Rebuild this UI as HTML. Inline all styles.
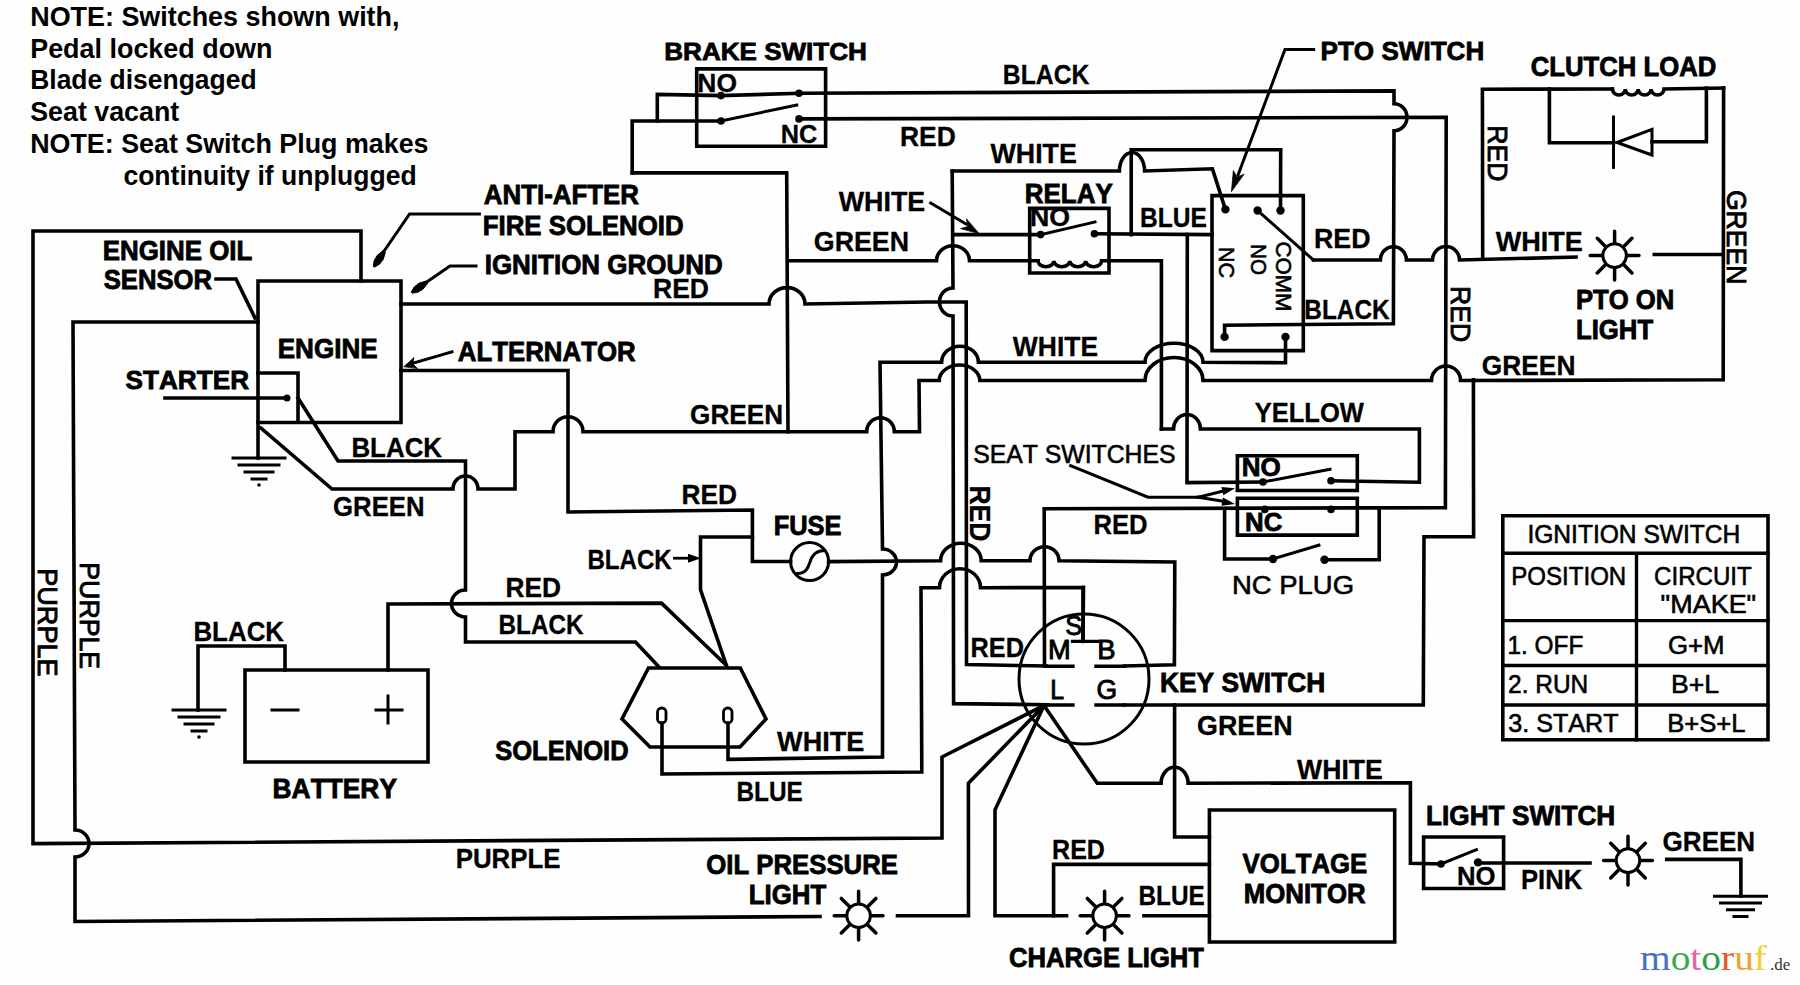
<!DOCTYPE html>
<html><head><meta charset="utf-8"><style>html,body{margin:0;padding:0;background:#fdfefd;overflow:hidden}svg{display:block}text{font-family:"Liberation Sans",sans-serif;font-kerning:none;font-feature-settings:"kern" 0,"liga" 0}</style></head>
<body><svg width="1800" height="985" viewBox="0 0 1800 985" stroke="#000" stroke-linecap="square" stroke-linejoin="miter" font-family="Liberation Sans, sans-serif">
<rect width="1800" height="985" fill="#fdfefd" stroke="none"/>
<text transform="translate(30.2 26.0) scale(0.9701 1)" font-size="27.76" font-weight="bold" stroke="none">NOTE: Switches shown with,</text>
<text transform="translate(30.2 57.7) scale(0.9702 1)" font-size="27.76" font-weight="bold" stroke="none">Pedal locked down</text>
<text transform="translate(30.2 89.4) scale(0.9535 1)" font-size="27.76" font-weight="bold" stroke="none">Blade disengaged</text>
<text transform="translate(30.2 121.2) scale(0.9662 1)" font-size="27.76" font-weight="bold" stroke="none">Seat vacant</text>
<text transform="translate(30.2 152.9) scale(0.9677 1)" font-size="27.76" font-weight="bold" stroke="none">NOTE: Seat Switch Plug makes</text>
<text transform="translate(123.4 184.6) scale(0.9561 1)" font-size="27.76" font-weight="bold" stroke="none">continuity if unplugged</text>
<path d="M361.0 281.0 L361.0 231.0 L33.0 231.0 L33.0 843.6 L942.0 838.0 L942.0 757.0 L1044.0 705.5" stroke-width="3.60" fill="none"/>
<path d="M258.0 322.0 L73.0 322.0 L75.0 830.0 L75.0 830.0 A14.0 13.5 0 0 1 75.0 857.0 L75.0 921.5 L820.0 916.5" stroke-width="3.60" fill="none"/>
<path d="M897.5 915.7L968.5 915.7L968.4 783.3L1044 705.5" stroke-width="3.60" fill="none"/>
<path d="M216.0 279.0 L236.0 279.0 L255.0 318.0" stroke-width="3.60" fill="none"/>
<path d="M258.0 281.0H401.0V422.5H258.0Z" stroke-width="3.60" fill="none"/>
<path d="M258.0 373.0 L298.0 373.0 L298.0 422.0" stroke-width="3.60" fill="none"/>
<path d="M165.0 398.0 L287.0 398.0" stroke-width="3.60" fill="none"/>
<circle cx="287.0" cy="398.0" r="3.5" fill="#000" stroke="none"/>
<path d="M298.0 398.0 L338.0 461.0 L465.5 461.0 L465.5 590.0 A14.0 13.5 0 0 0 465.5 617.0 L465.5 642.0 L635.5 642.0 L659.0 667.0" stroke-width="3.60" fill="none"/>
<path d="M261.0 428.0 L332.0 489.0 L453.0 489.0 A12.5 13.0 0 0 1 478.0 489.0 L515.0 489.0 L515.0 431.7 L553.0 431.7 A15.0 15.0 0 0 1 583.0 431.7 L866.7 431.7 A13.8 14.0 0 0 1 894.3 431.7 L919.5 431.8 L919.0 380.5 L939.2 380.5 A20.3 15.5 0 0 1 979.8 380.5 L1145.0 380.5 A29.0 23.0 0 0 1 1203.0 380.5 L1431.5 380.5 A14.5 14.5 0 0 1 1460.5 380.5 L1723.2 379.8 L1723.6 88.0" stroke-width="3.60" fill="none"/>
<path d="M258.0 422.0 L258.0 458.0" stroke-width="3.60" fill="none"/>
<path d="M233.0 458.0H285.0M239.0 465.0H279.0M245.0 472.0H273.0M252.0 479.0H266.0" stroke-width="3.00" fill="none"/>
<circle cx="259.0" cy="485.0" r="1.8" fill="#000" stroke="none"/>
<text transform="translate(102.7 260.2) scale(0.9637 1)" font-size="26.89" font-weight="bold" stroke="#000" stroke-width="0.80">ENGINE OIL</text>
<text transform="translate(103.7 289.2) scale(0.9552 1)" font-size="26.89" font-weight="bold" stroke="#000" stroke-width="0.80">SENSOR</text>
<text transform="translate(277.7 357.6) scale(0.9542 1)" font-size="27.33" font-weight="bold" stroke="#000" stroke-width="0.80">ENGINE</text>
<text transform="translate(125.6 389.2) scale(0.9832 1)" font-size="26.60" font-weight="bold" stroke="#000" stroke-width="0.80">STARTER</text>
<text transform="translate(351.4 456.5) scale(0.9382 1)" font-size="27.62" font-weight="bold" stroke="#000" stroke-width="0.30">BLACK</text>
<text transform="translate(333.1 515.5) scale(0.9316 1)" font-size="27.62" font-weight="bold" stroke="#000" stroke-width="0.30">GREEN</text>
<text transform="translate(38.0 568.2) rotate(90) scale(0.9766 1)" font-size="27.76" font-weight="normal" stroke="#000" stroke-width="0.90">PURPLE</text>
<text transform="translate(79.5 562.3) rotate(90) scale(0.9627 1)" font-size="27.76" font-weight="normal" stroke="#000" stroke-width="0.90">PURPLE</text>
<text transform="translate(455.7 868.0) scale(0.9073 1)" font-size="28.49" font-weight="bold" stroke="#000" stroke-width="0.30">PURPLE</text>
<path d="M479.4 214.0 L409.6 214.0 L382.0 254.0" stroke-width="3.00" fill="none"/>
<path d="M373.3 266.1L374.2 260.6L377.2 255.4L382.9 250.8L385.3 252.4L383.2 259.4L379.5 264.2L374.7 266.9Z" fill="#000" stroke="#000" stroke-width="1" stroke-linejoin="round"/>
<path d="M476.0 266.0 L450.0 266.0 L424.0 284.0" stroke-width="3.00" fill="none"/>
<path d="M411.5 291.7L414.3 286.9L419.0 283.2L426.0 281.0L427.6 283.3L423.1 289.1L417.9 292.2L412.5 293.1Z" fill="#000" stroke="#000" stroke-width="1" stroke-linejoin="round"/>
<path d="M452.0 351.8 L412.0 363.5" stroke-width="3.00" fill="none"/>
<path d="M404.1 366.4L414.0 357.6L412.7 363.8L417.2 368.2Z" fill="#000" stroke="#000" stroke-width="0.8" stroke-linejoin="round"/>
<text transform="translate(483.8 204.2) scale(0.9632 1)" font-size="26.89" font-weight="bold" stroke="#000" stroke-width="0.80">ANTI-AFTER</text>
<text transform="translate(482.7 235.2) scale(0.9611 1)" font-size="26.89" font-weight="bold" stroke="#000" stroke-width="0.80">FIRE SOLENOID</text>
<text transform="translate(484.7 273.8) scale(0.9657 1)" font-size="26.89" font-weight="bold" stroke="#000" stroke-width="0.80">IGNITION GROUND</text>
<text transform="translate(457.8 361.2) scale(0.9603 1)" font-size="26.89" font-weight="bold" stroke="#000" stroke-width="0.80">ALTERNATOR</text>
<path d="M401.0 304.0 L769.0 304.0 A18.0 16.4 0 0 1 805.0 304.0 L927.7 302.0 L966.2 302.0 L966.5 664.6 L1046.0 666.0" stroke-width="3.60" fill="none"/>
<text transform="translate(653.0 298.2) scale(0.9602 1)" font-size="27.62" font-weight="bold" stroke="#000" stroke-width="0.30">RED</text>
<path d="M401.0 370.5 L568.0 370.5 L568.0 512.0 L752.4 510.0 L752.4 561.4 L790.6 561.5" stroke-width="3.60" fill="none"/>
<path d="M828.6 561.6L940.6 560.7A20.3 17.5 0 0 1 981.2 560.7L1030 560.7A14.5 14 0 0 1 1059 560.7L1174.8 562L1174.4 664.7L1124.6 666" stroke-width="3.60" fill="none"/>
<circle cx="809.6" cy="561.6" r="19" stroke-width="3.0" fill="none"/>
<path d="M797.5 573.5C806 573.5 808 568 810 562C812 555 816 550.5 824.5 550.5" stroke-width="3.00" fill="none"/>
<text transform="translate(773.7 534.9) scale(0.9468 1)" font-size="26.89" font-weight="bold" stroke="#000" stroke-width="0.80">FUSE</text>
<text transform="translate(690.1 424.0) scale(0.9473 1)" font-size="27.62" font-weight="bold" stroke="#000" stroke-width="0.30">GREEN</text>
<text transform="translate(681.4 503.5) scale(0.9530 1)" font-size="27.62" font-weight="bold" stroke="#000" stroke-width="0.30">RED</text>
<path d="M726.4 665.3 L700.5 589.8 L700.5 537.0 L752.4 537.0" stroke-width="3.60" fill="none"/>
<path d="M674.5 558.2 L690.0 558.2" stroke-width="2.80" fill="none"/>
<path d="M701.0 558.2L688.0 562.7L688.0 553.7Z" fill="#000" stroke="none"/>
<text transform="translate(587.4 569.2) scale(0.8726 1)" font-size="27.62" font-weight="bold" stroke="#000" stroke-width="0.30">BLACK</text>
<path d="M388.0 670.0 L388.0 604.0 L661.5 603.1 L726.0 665.0" stroke-width="3.60" fill="none"/>
<text transform="translate(505.4 596.5) scale(0.9530 1)" font-size="27.62" font-weight="bold" stroke="#000" stroke-width="0.30">RED</text>
<text transform="translate(498.5 634.0) scale(0.8801 1)" font-size="27.62" font-weight="bold" stroke="#000" stroke-width="0.30">BLACK</text>
<path d="M285.0 670.0 L285.0 646.0 L198.0 646.0 L198.0 710.0" stroke-width="3.60" fill="none"/>
<path d="M173.0 710.0H225.0M179.0 717.0H219.0M185.0 724.0H213.0M192.0 731.0H206.0" stroke-width="3.00" fill="none"/>
<circle cx="199.0" cy="737.0" r="1.8" fill="#000" stroke="none"/>
<path d="M245.0 670.0H428.0V762.0H245.0Z" stroke-width="3.60" fill="none"/>
<path d="M272 710H298M376 710H402M388 696V723" stroke-width="3.00" fill="none"/>
<text transform="translate(193.4 641.0) scale(0.9382 1)" font-size="27.62" font-weight="bold" stroke="#000" stroke-width="0.30">BLACK</text>
<text transform="translate(272.6 798.2) scale(0.9796 1)" font-size="26.89" font-weight="bold" stroke="#000" stroke-width="0.80">BATTERY</text>
<path d="M648.5 668L740.3 668L766 719L740 747L650 747L622 719Z" stroke-width="3.60" fill="none"/>
<rect x="657.5" y="708" width="8.5" height="15" rx="4" stroke-width="2.8" fill="none"/>
<rect x="723.5" y="708" width="8.5" height="15" rx="4" stroke-width="2.8" fill="none"/>
<text transform="translate(495.2 759.7) scale(0.9250 1)" font-size="27.62" font-weight="bold" stroke="#000" stroke-width="0.80">SOLENOID</text>
<path d="M662.0 723.0 L662.0 774.0 L921.8 772.0 L921.0 587.7 L939.5 587.7 A20.5 19.0 0 0 1 980.5 587.7 L1083.5 587.5 L1083.0 641.0" stroke-width="3.60" fill="none"/>
<text transform="translate(736.5 800.5) scale(0.8817 1)" font-size="27.62" font-weight="bold" stroke="#000" stroke-width="0.30">BLUE</text>
<path d="M728.0 723.0 L728.0 759.4 L882.5 757.0 L882.5 575.0 A14.0 13.0 0 0 0 882.5 549.0 L880.0 362.2 L941.6 362.2 A18.4 16.0 0 0 1 978.4 362.2 L1145.0 362.2 A29.0 19.0 0 0 1 1203.0 362.2 L1285.5 362.7 L1285.5 337.0" stroke-width="3.60" fill="none"/>
<text transform="translate(777.1 750.5) scale(0.9810 1)" font-size="27.62" font-weight="bold" stroke="#000" stroke-width="0.30">WHITE</text>
<path d="M696.7 68.9H825.6V146.2H696.7Z" stroke-width="3.60" fill="none"/>
<path d="M657.3 121.0 L657.3 94.4 L721.0 95.6" stroke-width="3.60" fill="none"/>
<circle cx="721.0" cy="95.6" r="3.8" fill="#000" stroke="none"/>
<circle cx="799.0" cy="93.3" r="3.8" fill="#000" stroke="none"/>
<path d="M721.0 95.6 L799.0 93.3" stroke-width="3.60" fill="none"/>
<path d="M799.0 93.3 L1394.0 90.9 L1394.0 103.0 L1394.0 103.8 A13.0 13.5 0 0 1 1394.0 130.8 L1393.4 323.7 L1224.6 325.2 L1224.6 337.0" stroke-width="3.60" fill="none"/>
<path d="M632.2 172.9 L632.2 121.0 L721.0 121.0" stroke-width="3.60" fill="none"/>
<circle cx="721.0" cy="121.0" r="3.8" fill="#000" stroke="none"/>
<path d="M721.0 121.0 L796.7 105.0" stroke-width="3.00" fill="none"/>
<circle cx="799.0" cy="118.9" r="3.8" fill="#000" stroke="none"/>
<path d="M799.0 118.9 L1446.2 117.3 L1445.4 507.6 L1044.2 508.8 L1044.5 666.0" stroke-width="3.60" fill="none"/>
<path d="M632.2 172.9 L786.7 172.9 L788.0 431.7" stroke-width="3.60" fill="none"/>
<text transform="translate(664.3 59.8) scale(1.0548 1)" font-size="24.71" font-weight="bold" stroke="#000" stroke-width="0.80">BRAKE SWITCH</text>
<text transform="translate(697.3 92.0) scale(1.0111 1)" font-size="26.16" font-weight="bold" stroke="#000" stroke-width="0.30">NO</text>
<text transform="translate(780.7 143.1) scale(0.9682 1)" font-size="26.16" font-weight="bold" stroke="#000" stroke-width="0.30">NC</text>
<text transform="translate(1002.8 84.2) scale(0.8959 1)" font-size="27.62" font-weight="bold" stroke="#000" stroke-width="0.30">BLACK</text>
<text transform="translate(899.9 146.4) scale(0.9584 1)" font-size="27.62" font-weight="bold" stroke="#000" stroke-width="0.30">RED</text>
<path d="M952.2 171.0 L1119.4 171.0 A12.6 18.5 0 0 1 1144.6 171.0 L1212.4 168.8 L1225.4 209.4" stroke-width="3.60" fill="none"/>
<path d="M952.2 171.0 L953.0 288.0 L953.0 288.0 A13.5 14.0 0 0 0 953.0 316.0 L953.6 703.6 L1048.0 704.7" stroke-width="3.60" fill="none"/>
<text transform="translate(990.5 162.8) scale(0.9708 1)" font-size="27.62" font-weight="bold" stroke="#000" stroke-width="0.30">WHITE</text>
<text transform="translate(838.7 211.1) scale(0.9731 1)" font-size="27.62" font-weight="bold" stroke="#000" stroke-width="0.30">WHITE</text>
<path d="M930.7 203.0 L966.0 224.0" stroke-width="3.00" fill="none"/>
<path d="M978.8 233.6L960.7 228.6L967.8 226.6L966.6 219.3Z" fill="#000" stroke="#000" stroke-width="0.8" stroke-linejoin="round"/>
<text transform="translate(813.8 251.0) scale(0.9704 1)" font-size="27.62" font-weight="bold" stroke="#000" stroke-width="0.30">GREEN</text>
<path d="M1029.7 208.4H1109.0V273.0H1029.7Z" stroke-width="3.60" fill="none"/>
<path d="M953.0 234.6 L1040.6 234.6" stroke-width="3.60" fill="none"/>
<circle cx="1040.6" cy="234.6" r="3.8" fill="#000" stroke="none"/>
<path d="M1040.6 234.6 L1095.0 222.0" stroke-width="3.00" fill="none"/>
<circle cx="1094.4" cy="233.8" r="3.8" fill="#000" stroke="none"/>
<path d="M1094.4 233.8 L1212.0 234.6" stroke-width="3.60" fill="none"/>
<path d="M1131.2 234.6 L1131.2 149.7 L1280.7 149.7 L1280.5 210.5" stroke-width="3.60" fill="none"/>
<path d="M1187.3 234.6 L1187.0 482.6 L1263.0 482.0" stroke-width="3.60" fill="none"/>
<circle cx="1263.0" cy="482.0" r="3.8" fill="#000" stroke="none"/>
<path d="M1263.0 482.0 L1330.0 469.2" stroke-width="3.00" fill="none"/>
<path d="M788.0 260.7 L936.5 260.7 A16.5 15.0 0 0 1 969.5 260.7 L1038.0 260.7" stroke-width="3.60" fill="none"/>
<path d="M1038 260.7A7.9 6 0 0 0 1053.9 260.7A7.9 6 0 0 0 1069.8 260.7A7.9 6 0 0 0 1085.7 260.7A7.9 6 0 0 0 1101.6 260.7L1161.4 260.7L1161.4 429" stroke-width="3.60" fill="none"/>
<path d="M1161.4 429.0 L1173.6 429.0 A13.4 14.5 0 0 1 1200.4 429.0 L1419.4 429.0 L1419.4 482.2 L1331.0 480.8" stroke-width="3.60" fill="none"/>
<circle cx="1331.0" cy="480.8" r="3.8" fill="#000" stroke="none"/>
<text transform="translate(1024.7 203.2) scale(0.9662 1)" font-size="26.89" font-weight="bold" stroke="#000" stroke-width="0.80">RELAY</text>
<text transform="translate(1029.9 226.4) scale(1.0221 1)" font-size="26.16" font-weight="bold" stroke="#000" stroke-width="0.30">NO</text>
<text transform="translate(1139.9 226.9) scale(0.8900 1)" font-size="27.62" font-weight="bold" stroke="#000" stroke-width="0.30">BLUE</text>
<text transform="translate(1012.8 355.5) scale(0.9583 1)" font-size="27.62" font-weight="bold" stroke="#000" stroke-width="0.30">WHITE</text>
<text transform="translate(1254.7 421.5) scale(0.9241 1)" font-size="27.62" font-weight="bold" stroke="#000" stroke-width="0.30">YELLOW</text>
<path d="M1212.0 195.6H1303.3V350.6H1212.0Z" stroke-width="3.60" fill="none"/>
<circle cx="1225.4" cy="209.4" r="4.2" fill="#000" stroke="none"/>
<circle cx="1257.6" cy="210.5" r="4.2" fill="#000" stroke="none"/>
<circle cx="1280.5" cy="210.5" r="4.2" fill="#000" stroke="none"/>
<circle cx="1224.6" cy="336.9" r="4.2" fill="#000" stroke="none"/>
<circle cx="1285.5" cy="336.9" r="4.2" fill="#000" stroke="none"/>
<path d="M1257.6 210.5 L1313.4 260.0" stroke-width="3.00" fill="none"/>
<path d="M1313.4 260.0 L1380.4 260.0 A13.0 13.3 0 0 1 1406.4 260.0 L1432.5 260.0 A13.5 13.5 0 0 1 1459.5 260.0 L1576.0 257.0" stroke-width="3.60" fill="none"/>
<path d="M1654.3 254.5 L1723.2 254.5" stroke-width="3.60" fill="none"/>
<circle cx="1614.6" cy="255.6" r="11.8" stroke-width="3.0" fill="none"/>
<path d="M1627.6 255.6L1639.0 255.6M1623.8 264.8L1631.9 272.9M1614.6 268.6L1614.6 280.0M1605.4 264.8L1597.3 272.9M1601.6 255.6L1590.2 255.6M1605.4 246.4L1597.3 238.3M1614.6 242.6L1614.6 231.2M1623.8 246.4L1631.9 238.3" stroke-width="3.50" fill="none" stroke-linecap="round"/>
<path d="M1482.7 258.8 L1482.4 89.2 L1612.4 89.0" stroke-width="3.60" fill="none"/>
<path d="M1612.4 89A6.4 6 0 0 0 1625.3 89A6.4 6 0 0 0 1638.2 89A6.4 6 0 0 0 1651.1 89A6.4 6 0 0 0 1664.0 89L1723.6 88" stroke-width="3.60" fill="none"/>
<path d="M1549.4 89.0 L1549.4 142.8 L1613.5 142.8" stroke-width="3.60" fill="none"/>
<path d="M1613.5 117.0 L1613.5 167.4" stroke-width="3.00" fill="none"/>
<path d="M1617 142.5L1652 129.4L1652 155Z" stroke-width="3.00" fill="none"/>
<path d="M1652.0 141.7 L1706.4 141.7 L1706.4 88.0" stroke-width="3.60" fill="none"/>
<path d="M1313.7 49.5 L1285.0 49.5 L1238.0 175.0" stroke-width="3.00" fill="none"/>
<path d="M1231.5 191.2L1233.4 170.5L1236.8 177.2L1243.7 174.4Z" fill="#000" stroke="#000" stroke-width="0.8" stroke-linejoin="round"/>
<text transform="translate(1320.5 59.8) scale(0.9870 1)" font-size="26.45" font-weight="bold" stroke="#000" stroke-width="0.80">PTO SWITCH</text>
<text transform="translate(1530.8 76.0) scale(0.9612 1)" font-size="26.74" font-weight="bold" stroke="#000" stroke-width="0.80">CLUTCH LOAD</text>
<text transform="translate(1488.0 125.3) rotate(90) scale(0.9371 1)" font-size="28.49" font-weight="normal" stroke="#000" stroke-width="0.90">RED</text>
<text transform="translate(1726.5 189.9) rotate(90) scale(0.9905 1)" font-size="26.89" font-weight="normal" stroke="#000" stroke-width="0.90">GREEN</text>
<text transform="translate(1450.5 285.9) rotate(90) scale(0.9599 1)" font-size="27.76" font-weight="normal" stroke="#000" stroke-width="0.90">RED</text>
<text transform="translate(1218.6 247.0) rotate(90) scale(1.0178 1)" font-size="21.22" font-weight="normal" stroke="#000" stroke-width="0.60">NC</text>
<text transform="translate(1251.3 244.1) rotate(90) scale(0.9537 1)" font-size="21.66" font-weight="normal" stroke="#000" stroke-width="0.60">NO</text>
<text transform="translate(1275.7 241.4) rotate(90) scale(1.0440 1)" font-size="21.22" font-weight="normal" stroke="#000" stroke-width="0.60">COMM</text>
<text transform="translate(1313.9 247.9) scale(0.9711 1)" font-size="27.62" font-weight="bold" stroke="#000" stroke-width="0.30">RED</text>
<text transform="translate(1304.3 318.8) scale(0.8832 1)" font-size="27.62" font-weight="bold" stroke="#000" stroke-width="0.30">BLACK</text>
<text transform="translate(1495.7 250.6) scale(0.9799 1)" font-size="27.62" font-weight="bold" stroke="#000" stroke-width="0.30">WHITE</text>
<text transform="translate(1576.0 308.8) scale(0.9541 1)" font-size="26.89" font-weight="bold" stroke="#000" stroke-width="0.80">PTO ON</text>
<text transform="translate(1576.0 339.2) scale(0.9559 1)" font-size="26.89" font-weight="bold" stroke="#000" stroke-width="0.80">LIGHT</text>
<text transform="translate(1481.8 374.5) scale(0.9536 1)" font-size="27.62" font-weight="bold" stroke="#000" stroke-width="0.30">GREEN</text>
<path d="M1473.4 379.8 L1473.6 536.8 L1424.0 536.8 L1423.3 705.0 L1124.6 705.0" stroke-width="3.60" fill="none"/>
<text transform="translate(970.1 485.4) rotate(90) scale(0.9021 1)" font-size="29.51" font-weight="bold" stroke="#000" stroke-width="0.30">RED</text>
<path d="M1237.4 455.8H1357.3V490.5H1237.4Z" stroke-width="3.60" fill="none"/>
<path d="M1237.4 498.3H1357.3V535.1H1237.4Z" stroke-width="3.60" fill="none"/>
<circle cx="1264.8" cy="509.4" r="3.8" fill="#000" stroke="none"/>
<circle cx="1331.0" cy="509.4" r="3.8" fill="#000" stroke="none"/>
<path d="M1070.6 465.7 L1148.0 497.2 L1198.3 497.2" stroke-width="3.00" fill="none"/>
<path d="M1198.3 497.2 L1225.0 490.6" stroke-width="3.00" fill="none"/>
<path d="M1235.0 488.2L1223.3 495.2L1221.4 487.0Z" fill="#000" stroke="none"/>
<path d="M1198.3 497.2 L1225.0 501.6" stroke-width="3.00" fill="none"/>
<path d="M1235.0 503.9L1221.5 505.8L1222.9 497.5Z" fill="#000" stroke="none"/>
<path d="M1224.6 509.4 L1224.6 559.0 L1273.0 559.0" stroke-width="3.60" fill="none"/>
<circle cx="1273.0" cy="559.0" r="4.2" fill="#000" stroke="none"/>
<path d="M1273.0 559.0 L1318.9 545.2" stroke-width="3.00" fill="none"/>
<circle cx="1324.5" cy="559.7" r="4.2" fill="#000" stroke="none"/>
<path d="M1324.5 559.7 L1379.2 559.7 L1379.2 509.4" stroke-width="3.60" fill="none"/>
<text transform="translate(973.2 463.0) scale(0.9418 1)" font-size="26.31" font-weight="normal" stroke="#000" stroke-width="0.60">SEAT SWITCHES</text>
<text transform="translate(1093.4 533.8) scale(0.9150 1)" font-size="28.05" font-weight="bold" stroke="#000" stroke-width="0.30">RED</text>
<text transform="translate(1241.7 476.2) scale(0.9946 1)" font-size="26.16" font-weight="bold" stroke="#000" stroke-width="0.80">NO</text>
<text transform="translate(1245.0 530.9) scale(0.9880 1)" font-size="26.16" font-weight="bold" stroke="#000" stroke-width="0.80">NC</text>
<text transform="translate(1232.0 593.5) scale(1.0384 1)" font-size="26.45" font-weight="normal" stroke="#000" stroke-width="0.60">NC PLUG</text>
<circle cx="1084" cy="679" r="65" stroke-width="3.0" fill="none"/>
<path d="M1072.6 641.4H1098M1046.7 666.3H1073M1096 666.3H1124.6M1046.7 705H1073M1096 705H1124.6" stroke-width="3.40" fill="none"/>
<path d="M1083.0 587.5 L1083.0 641.4" stroke-width="3.60" fill="none"/>
<text transform="translate(1065.3 634.8) scale(0.9483 1)" font-size="26.74" font-weight="normal" stroke="#000" stroke-width="0.90">S</text>
<text transform="translate(1047.9 659.1) scale(1.0173 1)" font-size="26.74" font-weight="normal" stroke="#000" stroke-width="0.90">M</text>
<text transform="translate(1097.2 659.1) scale(1.0257 1)" font-size="26.74" font-weight="normal" stroke="#000" stroke-width="0.90">B</text>
<text transform="translate(1050.2 699.1) scale(0.9328 1)" font-size="26.74" font-weight="normal" stroke="#000" stroke-width="0.90">L</text>
<text transform="translate(1096.6 699.1) scale(0.9909 1)" font-size="26.74" font-weight="normal" stroke="#000" stroke-width="0.90">G</text>
<text transform="translate(970.5 656.5) scale(0.9168 1)" font-size="27.62" font-weight="bold" stroke="#000" stroke-width="0.30">RED</text>
<path d="M1044.0 705.5 L995.0 809.8 L995.0 915.7 L1066.5 915.7" stroke-width="3.60" fill="none"/>
<path d="M1053.6 915.7 L1053.6 864.4 L1209.4 864.4" stroke-width="3.60" fill="none"/>
<path d="M1144.0 915.7 L1209.4 915.7" stroke-width="3.60" fill="none"/>
<circle cx="858.6" cy="915.7" r="11.8" stroke-width="3.0" fill="none"/>
<path d="M871.6 915.7L883.0 915.7M867.8 924.9L875.9 933.0M858.6 928.7L858.6 940.1M849.4 924.9L841.3 933.0M845.6 915.7L834.2 915.7M849.4 906.5L841.3 898.4M858.6 902.7L858.6 891.3M867.8 906.5L875.9 898.4" stroke-width="3.50" fill="none" stroke-linecap="round"/>
<circle cx="1104.6" cy="915.7" r="11.8" stroke-width="3.0" fill="none"/>
<path d="M1117.6 915.7L1129.0 915.7M1113.8 924.9L1121.9 933.0M1104.6 928.7L1104.6 940.1M1095.4 924.9L1087.3 933.0M1091.6 915.7L1080.2 915.7M1095.4 906.5L1087.3 898.4M1104.6 902.7L1104.6 891.3M1113.8 906.5L1121.9 898.4" stroke-width="3.50" fill="none" stroke-linecap="round"/>
<path d="M1044.0 705.5 L1097.3 783.3 L1161.1 783.3 A13.5 16.0 0 0 1 1188.1 783.3 L1410.4 782.7 L1410.4 863.2 L1441.0 864.0" stroke-width="3.60" fill="none"/>
<circle cx="1441.0" cy="864.0" r="3.8" fill="#000" stroke="none"/>
<path d="M1441.0 864.0 L1476.4 849.7" stroke-width="3.00" fill="none"/>
<circle cx="1478.0" cy="862.4" r="4.2" fill="#000" stroke="none"/>
<path d="M1478.0 863.0 L1590.0 863.0" stroke-width="3.60" fill="none"/>
<path d="M1174.6 705.0 L1174.6 837.0 L1209.4 837.0" stroke-width="3.60" fill="none"/>
<text transform="translate(1160.0 691.9) scale(0.9794 1)" font-size="26.89" font-weight="bold" stroke="#000" stroke-width="0.80">KEY SWITCH</text>
<text transform="translate(1197.0 734.5) scale(0.9736 1)" font-size="27.62" font-weight="bold" stroke="#000" stroke-width="0.30">GREEN</text>
<text transform="translate(1297.1 779.2) scale(0.9640 1)" font-size="27.62" font-weight="bold" stroke="#000" stroke-width="0.30">WHITE</text>
<text transform="translate(706.3 873.5) scale(0.9578 1)" font-size="26.89" font-weight="bold" stroke="#000" stroke-width="0.80">OIL PRESSURE</text>
<text transform="translate(748.7 904.0) scale(0.9622 1)" font-size="26.89" font-weight="bold" stroke="#000" stroke-width="0.80">LIGHT</text>
<text transform="translate(1052.1 858.5) scale(0.9060 1)" font-size="27.62" font-weight="bold" stroke="#000" stroke-width="0.30">RED</text>
<text transform="translate(1138.5 905.0) scale(0.8817 1)" font-size="27.62" font-weight="bold" stroke="#000" stroke-width="0.30">BLUE</text>
<text transform="translate(1008.9 967.4) scale(0.9539 1)" font-size="26.89" font-weight="bold" stroke="#000" stroke-width="0.80">CHARGE LIGHT</text>
<path d="M1209.4 810.0H1394.7V942.0H1209.4Z" stroke-width="3.60" fill="none"/>
<text transform="translate(1242.6 873.0) scale(0.9601 1)" font-size="26.89" font-weight="bold" stroke="#000" stroke-width="0.80">VOLTAGE</text>
<text transform="translate(1243.7 902.7) scale(0.9606 1)" font-size="26.89" font-weight="bold" stroke="#000" stroke-width="0.80">MONITOR</text>
<path d="M1423.6 837.0H1503.6V888.5H1423.6Z" stroke-width="3.60" fill="none"/>
<text transform="translate(1426.0 825.2) scale(0.9750 1)" font-size="26.89" font-weight="bold" stroke="#000" stroke-width="0.80">LIGHT SWITCH</text>
<text transform="translate(1457.0 885.2) scale(0.9836 1)" font-size="26.16" font-weight="bold" stroke="#000" stroke-width="0.30">NO</text>
<text transform="translate(1521.0 889.0) scale(0.9284 1)" font-size="27.62" font-weight="bold" stroke="#000" stroke-width="0.30">PINK</text>
<circle cx="1628.0" cy="860.6" r="11.8" stroke-width="3.0" fill="none"/>
<path d="M1641.0 860.6L1652.4 860.6M1637.2 869.8L1645.3 877.9M1628.0 873.6L1628.0 885.0M1618.8 869.8L1610.7 877.9M1615.0 860.6L1603.6 860.6M1618.8 851.4L1610.7 843.3M1628.0 847.6L1628.0 836.2M1637.2 851.4L1645.3 843.3" stroke-width="3.50" fill="none" stroke-linecap="round"/>
<path d="M1666.7 859.4 L1740.9 859.4 L1740.9 896.2" stroke-width="3.60" fill="none"/>
<path d="M1714.5 896.2H1766.5M1720.5 903.0H1760.5M1727.5 909.8H1753.5M1734.0 916.6H1747.0" stroke-width="3.00" fill="none"/>
<text transform="translate(1662.6 851.0) scale(0.9431 1)" font-size="27.62" font-weight="bold" stroke="#000" stroke-width="0.30">GREEN</text>
<path d="M1502.8 515.7H1768.0V739.8H1502.8Z" stroke-width="3.60" fill="none"/>
<path d="M1502.8 553.3H1768M1502.8 620.6H1768M1502.8 665.5H1768M1502.8 705H1768M1636.5 553.3V739.8" stroke-width="3.40" fill="none"/>
<text transform="translate(1527.4 542.9) scale(0.9450 1)" font-size="26.02" font-weight="normal" stroke="#000" stroke-width="0.60">IGNITION SWITCH</text>
<text transform="translate(1511.3 584.6) scale(0.9245 1)" font-size="26.02" font-weight="normal" stroke="#000" stroke-width="0.60">POSITION</text>
<text transform="translate(1654.1 584.6) scale(0.9258 1)" font-size="26.02" font-weight="normal" stroke="#000" stroke-width="0.60">CIRCUIT</text>
<text transform="translate(1660.6 612.5) scale(1.0367 1)" font-size="26.02" font-weight="normal" stroke="#000" stroke-width="0.60">&quot;MAKE&quot;</text>
<text transform="translate(1507.4 653.8) scale(0.9381 1)" font-size="26.02" font-weight="normal" stroke="#000" stroke-width="0.60">1. OFF</text>
<text transform="translate(1668.0 653.8) scale(0.9914 1)" font-size="26.02" font-weight="normal" stroke="#000" stroke-width="0.60">G+M</text>
<text transform="translate(1508.1 693.2) scale(0.9394 1)" font-size="26.02" font-weight="normal" stroke="#000" stroke-width="0.60">2. RUN</text>
<text transform="translate(1670.9 693.2) scale(1.0246 1)" font-size="26.02" font-weight="normal" stroke="#000" stroke-width="0.60">B+L</text>
<text transform="translate(1508.3 731.8) scale(0.9652 1)" font-size="26.02" font-weight="normal" stroke="#000" stroke-width="0.60">3. START</text>
<text transform="translate(1667.2 731.8) scale(0.9848 1)" font-size="26.02" font-weight="normal" stroke="#000" stroke-width="0.60">B+S+L</text>
<text x="1640" y="969.8" style="font-family:'Liberation Serif',serif" font-size="36" stroke="none" textLength="127" lengthAdjust="spacingAndGlyphs"><tspan fill="#4d6fbf">m</tspan><tspan fill="#3ca84a">o</tspan><tspan fill="#e2679f">t</tspan><tspan fill="#27a048">o</tspan><tspan fill="#e8562a">r</tspan><tspan fill="#f0a22a">u</tspan><tspan fill="#f2cf2a">f</tspan></text>
<text x="1770" y="969.8" style="font-family:'Liberation Serif',serif" font-size="17" fill="#333" stroke="none">.de</text>
</svg></body></html>
